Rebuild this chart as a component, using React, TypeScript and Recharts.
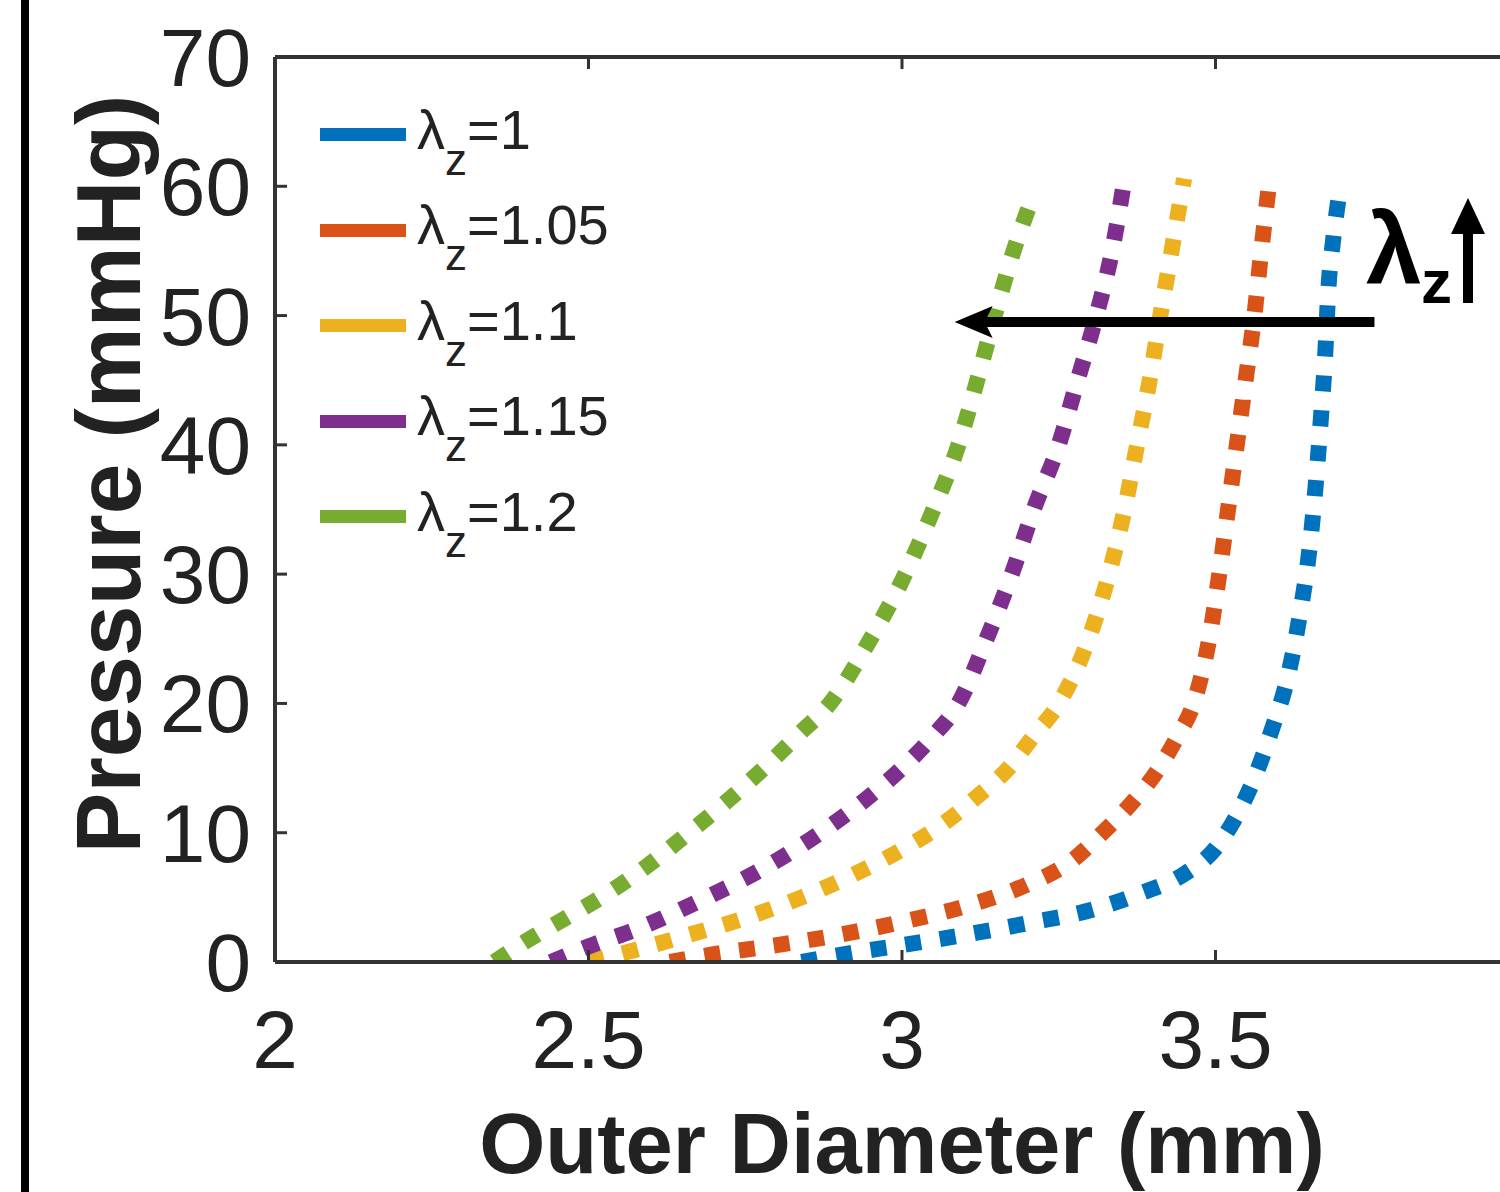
import React from 'react';
import { LineChart, Line, XAxis, YAxis, Legend, ReferenceLine } from 'recharts';

// axis ticks
const diameterTicks = [2, 2.5, 3, 3.5, 4];
const pressureTicks = [0, 10, 20, 30, 40, 50, 60, 70];

// lambda_z = 1
const diameter100 = [2.84, 2.92, 3.0, 3.1, 3.2, 3.3, 3.38, 3.45, 3.5, 3.53, 3.56, 3.59, 3.615, 3.635, 3.65, 3.66, 3.668, 3.675, 3.68, 3.688, 3.697];
const pressure100 = [0, 0.7, 1.3, 2.1, 3.0, 4.0, 5.3, 6.8, 8.8, 11, 14, 18, 22, 27, 32, 37, 42, 47, 52, 56, 59.3];
// lambda_z = 1.05
const diameter105 = [2.63, 2.7, 2.8, 2.9, 3.0, 3.1, 3.2, 3.27, 3.32, 3.37, 3.41, 3.44, 3.465, 3.49, 3.506, 3.52, 3.534, 3.548, 3.562, 3.573, 3.585];
const pressure105 = [0, 0.6, 1.3, 2.1, 3.1, 4.3, 6.0, 7.8, 10, 12.5, 15, 17.5, 20, 25, 30, 35, 40, 45, 50, 55, 60];
// lambda_z = 1.1
const diameter110 = [2.5, 2.58, 2.66, 2.75, 2.84, 2.92, 3.0, 3.06, 3.12, 3.17, 3.21, 3.25, 3.29, 3.33, 3.355, 3.375, 3.395, 3.412, 3.43, 3.45];
const pressure110 = [0, 1, 2.1, 3.4, 5, 6.7, 8.7, 10.5, 12.8, 15, 17.5, 20, 24, 30, 35, 40, 45, 50, 55, 60.6];
// lambda_z = 1.15
const diameter115 = [2.44, 2.5, 2.58, 2.68, 2.77, 2.87, 2.94, 3.0, 3.05, 3.09, 3.135, 3.175, 3.21, 3.25, 3.28, 3.31, 3.335, 3.355];
const pressure115 = [0, 1.2, 2.6, 4.8, 7, 10, 12.5, 15, 17.5, 20, 25, 30, 35, 40, 45, 50, 55, 60.6];
// lambda_z = 1.2
const diameter120 = [2.35, 2.4, 2.46, 2.52, 2.59, 2.66, 2.72, 2.78, 2.835, 2.885, 2.95, 3.005, 3.05, 3.09, 3.12, 3.148, 3.178, 3.207];
const pressure120 = [0, 1.6, 3.3, 5, 7.3, 10, 12.4, 15, 17.6, 20, 25, 30, 35, 40, 45, 50, 55, 59];

const stretchLabels = ['1', '1.05', '1.1', '1.15', '1.2'];
const stretchColors = ['#0072BD', '#D95319', '#EDB120', '#7E2F8E', '#77AC30'];

// arrow annotation, in data units
const arrowStart = { x: 3.7535, y: 49.5 };
const arrowEnd = { x: 3.084, y: 49.5 };

const FONT = '"Liberation Sans", Arial, Helvetica, sans-serif';
const TEXT = '#222222';
const AXIS = '#333333';

const toPoints = (d: number[], p: number[]) => d.map((v, i) => ({ d: v, p: p[i] }));

const seriesData = [
  toPoints(diameter100, pressure100),
  toPoints(diameter105, pressure105),
  toPoints(diameter110, pressure110),
  toPoints(diameter115, pressure115),
  toPoints(diameter120, pressure120),
];

const XTick = (props: any) => {
  const { x, y, payload } = props;
  return (
    <g>
      <line x1={x} x2={x} y1={y} y2={y - 12} stroke={AXIS} strokeWidth={3} />
      <text x={x} y={y + 106} textAnchor="middle" fontSize={82} fontFamily={FONT} fill={TEXT}>
        {payload.value}
      </text>
    </g>
  );
};

const TopTick = (props: any) => {
  const { x, y } = props;
  return <line x1={x} x2={x} y1={y} y2={y + 12} stroke={AXIS} strokeWidth={3} />;
};

const YTick = (props: any) => {
  const { x, y, payload } = props;
  return (
    <g>
      <line x1={x} x2={x + 12} y1={y} y2={y} stroke={AXIS} strokeWidth={3} />
      <text x={x - 24} y={y + 29} textAnchor="end" fontSize={82} fontFamily={FONT} fill={TEXT}>
        {payload.value}
      </text>
    </g>
  );
};

const ArrowShape = (props: any) => {
  const { x1, y1, x2, y2 } = props;
  const tipX = Math.min(x1, x2);
  const tailX = Math.max(x1, x2);
  const yy = (y1 + y2) / 2;
  return (
    <g>
      <line x1={tailX} x2={tipX + 30} y1={yy} y2={yy} stroke="#000" strokeWidth={10} />
      <polygon points={`${tipX},${yy} ${tipX + 38},${yy - 16} ${tipX + 30},${yy} ${tipX + 38},${yy + 16}`} fill="#000" />
    </g>
  );
};

const renderLegend = (props: any) => {
  const { payload } = props;
  return (
    <div style={{ fontFamily: FONT, color: TEXT }}>
      {(payload || []).map((entry: any, i: number) => (
        <div key={i} style={{ display: 'flex', alignItems: 'center', height: 95.5 }}>
          <div style={{ width: 86, height: 13, background: entry.color }} />
          <span style={{ fontSize: 56, lineHeight: 1, marginLeft: 11, position: 'relative', top: -4, whiteSpace: 'nowrap' }}>
            λ<sub style={{ fontSize: 44, verticalAlign: '-26px', lineHeight: 0 }}>z</sub>={entry.value}
          </span>
        </div>
      ))}
    </div>
  );
};

export default function App() {
  return (
    <div style={{ position: 'absolute', left: 0, top: 0, width: 1500, height: 1192, overflow: 'hidden', background: '#fff' }}>
      <div style={{ position: 'absolute', left: 21, top: 0, width: 8, height: 1192, background: '#000' }} />
      <div style={{ position: 'absolute', left: 0, top: 0 }}>
        <LineChart width={1560} height={1192} margin={{ top: 56, right: 31, bottom: 229, left: 274 }}>
          <XAxis
            dataKey="d"
            type="number"
            domain={[2, 4]}
            ticks={diameterTicks}
            allowDataOverflow
            height={1}
            tickSize={0}
            tickMargin={0}
            tickLine={false}
            tick={<XTick />}
            axisLine={{ stroke: AXIS, strokeWidth: 4 }}
            interval={0}
          />
          <XAxis
            xAxisId="top"
            orientation="top"
            dataKey="d"
            type="number"
            domain={[2, 4]}
            ticks={diameterTicks}
            allowDataOverflow
            height={1}
            tickSize={0}
            tickMargin={0}
            tickLine={false}
            tick={<TopTick />}
            axisLine={{ stroke: AXIS, strokeWidth: 4 }}
            interval={0}
          />
          <YAxis
            dataKey="p"
            type="number"
            domain={[0, 70]}
            ticks={pressureTicks}
            allowDataOverflow
            width={1}
            tickSize={0}
            tickMargin={0}
            tickLine={false}
            tick={<YTick />}
            axisLine={{ stroke: AXIS, strokeWidth: 4 }}
            interval={0}
          />
          {seriesData.map((data, i) => (
            <Line
              key={stretchLabels[i]}
              data={data}
              dataKey="p"
              name={stretchLabels[i]}
              type="monotone"
              stroke={stretchColors[i]}
              strokeWidth={16}
              strokeDasharray="16 19"
              strokeLinecap="butt"
              dot={false}
              activeDot={false}
              isAnimationActive={false}
            />
          ))}
          <ReferenceLine
            segment={[arrowStart, arrowEnd]}
            shape={<ArrowShape />}
            ifOverflow="visible"
          />
          <Legend
            layout="vertical"
            align="center"
            verticalAlign="middle"
            content={renderLegend}
            wrapperStyle={{ top: 87, left: 320, width: 400, height: 'auto' }}
          />
        </LineChart>
      </div>
      <svg width={1500} height={1192} style={{ position: 'absolute', left: 0, top: 0, pointerEvents: 'none' }}>
        <text
          x={902}
          y={1173}
          textAnchor="middle"
          fontSize={85}
          fontWeight="bold"
          fontFamily={FONT}
          fill={TEXT}
        >
          Outer Diameter (mm)
        </text>
        <text
          transform="translate(140,474) rotate(-90)"
          textAnchor="middle"
          fontSize={91}
          fontWeight="bold"
          fontFamily={FONT}
          fill={TEXT}
        >
          Pressure (mmHg)
        </text>
        <text x={1366} y={283} fontSize={100} fontWeight="bold" fontFamily={FONT} fill="#000">
          λ
        </text>
        <text x={1421} y={303} fontSize={62} fontWeight="bold" fontFamily={FONT} fill="#000">
          z
        </text>
        <line x1={1468} x2={1468} y1={303} y2={228} stroke="#000" strokeWidth={10} />
        <polygon points="1468,198 1485,234 1451,234" fill="#000" />
      </svg>
    </div>
  );
}
